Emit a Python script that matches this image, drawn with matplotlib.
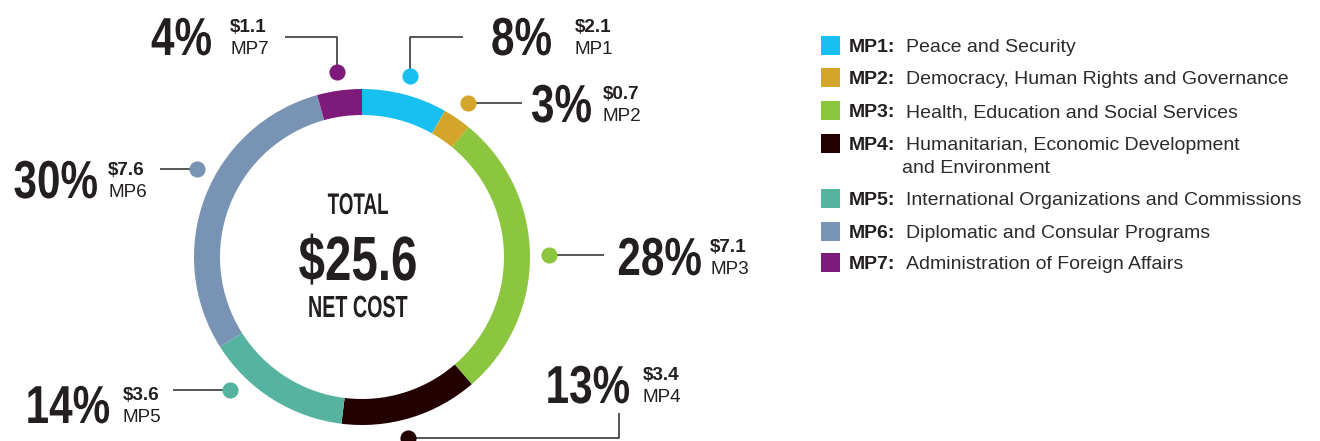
import numpy as np
import matplotlib
matplotlib.use("Agg")
import matplotlib.pyplot as plt
from matplotlib.patches import Rectangle
from matplotlib.patheffects import AbstractPathEffect
from matplotlib.transforms import Affine2D

# ---- data -------------------------------------------------------------
codes = ["MP1", "MP2", "MP3", "MP4", "MP5", "MP6", "MP7"]
names = [
    "Peace and Security",
    "Democracy, Human Rights and Governance",
    "Health, Education and Social Services",
    "Humanitarian, Economic Development\nand Environment",
    "International Organizations and Commissions",
    "Diplomatic and Consular Programs",
    "Administration of Foreign Affairs",
]
net_cost = [2.1, 0.7, 7.1, 3.4, 3.6, 7.6, 1.1]  # $ billions
colors = ["#17C0F0", "#D3A52A", "#8CC63F", "#230002", "#55B3A0", "#7893B4", "#7D1A7A"]

total = sum(net_cost)

# ---- layout (pixel units, measured from the top-left) -------------------
W, H = 1320, 441
CX, CY = 362, 257          # donut centre
R_OUT, RING = 168, 26      # outer radius, ring thickness
R_DOT = 187                # radius of the callout dots
DOT_SHIFT = [0, 0, 0, 2.5, 12.5, 7, 0]   # degrees nudged off the wedge middle

# leader routes: ("v", y, x) up/down to y then across to x;
# ("h", x) straight across; ("hv", x, y) across to x then up/down to y
leaders = [("v", 37, 463), ("h", 522), ("h", 604), ("hv", 619, 413),
           ("h", 173), ("h", 160), ("v", 37, 285)]
# right edge and baseline of each big percentage, left edge of its small labels
pct_pos = [(552, 55), (592, 122), (702, 275), (630, 403),
           (110, 423), (98, 198), (212, 55)]
small_x = [575, 603, 710, 643, 123, 108, 230]

SANS = ["Liberation Sans", "DejaVu Sans"]
INK = "#231F20"


class Tall(AbstractPathEffect):
    """Stretch glyph outlines upward from the baseline, for a condensed look."""

    def __init__(self, sy):
        super().__init__()
        self.sy = sy

    def draw_path(self, renderer, gc, tpath, affine, rgbFace=None):
        y0 = affine.transform((0, 0))[1]
        stretch = Affine2D().translate(0, -y0).scale(1, self.sy).translate(0, y0)
        renderer.draw_path(gc, tpath, affine + stretch, rgbFace)


def condensed(x, y, s, size, width, **kw):
    """Bold display text, `width` times as wide as a regular face of `size`."""
    return ax.text(x, y, s, va="baseline", fontsize=size * width,
                   fontweight="bold", family=SANS, color=INK,
                   path_effects=[Tall(1 / width)], **kw)


def fy(y):
    return H - y


fig = plt.figure(figsize=(W / 100, H / 100), dpi=100)
ax = fig.add_axes([0, 0, 1, 1])

ax.pie(net_cost, colors=colors, startangle=90, counterclock=False,
       radius=R_OUT, center=(CX, fy(CY)),
       wedgeprops=dict(width=RING, linewidth=0))
ax.set_xlim(0, W)
ax.set_ylim(0, H)
ax.set_aspect("equal")
ax.axis("off")

# centre text
condensed(358, fy(214), "TOTAL", 21.5, 0.63, ha="center")
condensed(358, fy(280), f"${total:.1f}", 45, 0.76, ha="center")
condensed(358, fy(317), "NET COST", 22, 0.645, ha="center")

# callouts
cum = np.cumsum([0] + net_cost[:-1])
for i, v in enumerate(net_cost):
    theta = np.deg2rad((cum[i] + v / 2) / total * 360 + DOT_SHIFT[i])
    dx = CX + R_DOT * np.sin(theta)
    dy = CY - R_DOT * np.cos(theta)
    route = leaders[i]
    if route[0] == "v":
        xs, ys = [dx, dx, route[2]], [dy, route[1], route[1]]
    elif route[0] == "h":
        xs, ys = [dx, route[1]], [dy, dy]
    else:
        xs, ys = [dx, route[1], route[1]], [dy, dy, route[2]]
    ax.plot(xs, [fy(y) for y in ys], color="#3A3A3A", lw=1.2,
            solid_capstyle="butt", zorder=2)
    ax.scatter([dx], [fy(dy)], s=135, color=colors[i], linewidths=0, zorder=3)

    xr, yb = pct_pos[i]
    condensed(xr, fy(yb), f"{v / total * 100:.0f}%", 38.5, 0.79, ha="right")
    ax.text(small_x[i], fy(yb - 23), f"${v:.1f}", ha="left", va="baseline",
            fontsize=13.6, fontweight="bold", family=SANS, color=INK)
    ax.text(small_x[i], fy(yb - 1), codes[i], ha="left", va="baseline",
            fontsize=13.6, family=SANS, color=INK)

# legend
row_y = [45, 77, 110, 143, 198, 231, 262]
for i, code in enumerate(codes):
    y = row_y[i]
    ax.add_patch(Rectangle((821, fy(y + 9.5)), 19, 19, color=colors[i], lw=0))
    ax.text(849, fy(y + 7), f"{code}:", ha="left", va="baseline",
            fontsize=14, fontweight="bold", family=SANS, color=INK)
    lines = names[i].split("\n")
    ax.text(906, fy(y + 7), lines[0], ha="left", va="baseline",
            fontsize=14, family=SANS, color="#2B2B2B")
    if len(lines) > 1:
        ax.text(902, fy(y + 30), lines[1], ha="left", va="baseline",
                fontsize=14, family=SANS, color="#2B2B2B")

fig.savefig("out.png", dpi=100)
